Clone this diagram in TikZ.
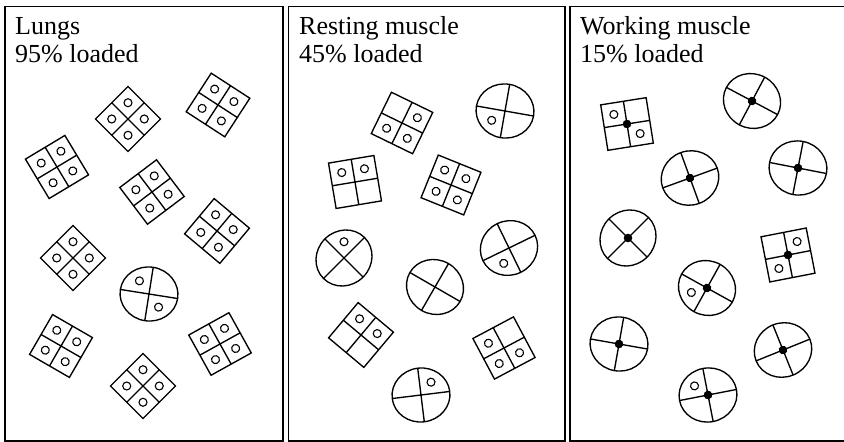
\documentclass[tikz,border=0pt]{standalone}
\usepackage{fontspec}
\setmainfont{Liberation Serif}

\tikzstyle{panel}=[draw, line width=1.3pt]
\tikzstyle{unit}=[line width=1.35pt]
\tikzstyle{otwo}=[draw, line width=1.1pt]
\tikzstyle{title}=[anchor=base west, inner sep=0pt, font=\fontsize{26}{28}\selectfont]

% one bound oxygen, placed in the cell (#1,#2) of a unit
\newcommand{\otwo}[2]{\draw[otwo] ({11.5*#1},{11.5*#2}) circle (4);}
% the iron in the middle
\newcommand{\fe}{\fill (0,0) circle (4.3);}
% square form: x, y, turn, what sits in it
\newcommand{\hbsquare}[4]{%
  \begin{scope}[shift={(#1,#2)}, rotate=#3, unit]
    \draw (-23,-23) rectangle (23,23) (-23,0) -- (23,0) (0,-23) -- (0,23);
    #4
  \end{scope}}
% round form
\newcommand{\hbdisc}[4]{%
  \begin{scope}[shift={(#1,#2)}, rotate=#3, unit]
    \draw (0,0) ellipse [x radius=29, y radius=27];
    \draw (-29,0) -- (29,0) (0,-27) -- (0,27);
    #4
  \end{scope}}

\begin{document}
\begin{tikzpicture}[x=1pt, y=1pt]
\clip (0,0) rectangle (844,442);
\draw[panel] (5,1) rectangle (283,435.5);
\draw[panel] (288.5,1) rectangle (565,435.5);
\draw[panel] (570,1) rectangle (850,435.5);
%
\node[title] (lungs) at (15,407) {Lungs};
\node[title] (lungsload) at (15,379) {95\% loaded};
\node[title] (rest) at (299,407) {Resting muscle};
\node[title] (restload) at (299,379) {45\% loaded};
\node[title] (work) at (580,407) {Working muscle};
\node[title] (workload) at (580,379) {15\% loaded};
%
% lungs
\hbsquare{128}{323}{45}{\otwo{1}{1}\otwo{-1}{1}\otwo{1}{-1}\otwo{-1}{-1}}
\hbsquare{218}{337}{57}{\otwo{1}{1}\otwo{-1}{1}\otwo{1}{-1}\otwo{-1}{-1}}
\hbsquare{57}{275}{31}{\otwo{1}{1}\otwo{-1}{1}\otwo{1}{-1}\otwo{-1}{-1}}
\hbsquare{152}{250}{37}{\otwo{1}{1}\otwo{-1}{1}\otwo{1}{-1}\otwo{-1}{-1}}
\hbsquare{217}{211}{50}{\otwo{1}{1}\otwo{-1}{1}\otwo{1}{-1}\otwo{-1}{-1}}
\hbsquare{73}{184}{45}{\otwo{1}{1}\otwo{-1}{1}\otwo{1}{-1}\otwo{-1}{-1}}
\hbdisc{149}{148}{-9}{\otwo{-1}{1}\otwo{1}{-1}}
\hbsquare{61}{96}{60}{\otwo{1}{1}\otwo{-1}{1}\otwo{1}{-1}\otwo{-1}{-1}}
\hbsquare{143}{56}{45}{\otwo{1}{1}\otwo{-1}{1}\otwo{1}{-1}\otwo{-1}{-1}}
\hbsquare{220}{98}{29}{\otwo{1}{1}\otwo{-1}{1}\otwo{1}{-1}\otwo{-1}{-1}}
%
% resting muscle
\hbsquare{402}{319}{-26}{\otwo{1}{1}\otwo{1}{-1}\otwo{-1}{-1}}
\hbdisc{505}{331}{-10}{\otwo{-1}{-1}}
\hbsquare{355}{260}{9.5}{\otwo{-1}{1}\otwo{1}{1}}
\hbsquare{451}{257}{-22}{\otwo{1}{1}\otwo{-1}{1}\otwo{1}{-1}\otwo{-1}{-1}}
\hbdisc{344}{184}{45}{\otwo{1}{1}}
\hbdisc{435}{155}{-30}{}
\hbdisc{509}{194}{26}{\otwo{-1}{-1}}
\hbsquare{361}{107}{-40}{\otwo{-1}{1}\otwo{1}{1}}
\hbsquare{504}{94}{28}{\otwo{-1}{1}\otwo{-1}{-1}\otwo{1}{-1}}
\hbdisc{421}{47}{7}{\otwo{1}{1}}
%
% working muscle
\hbsquare{627}{318}{9}{\fe\otwo{-1}{1}\otwo{1}{-1}}
\hbdisc{752}{341}{-28}{\fe}
\hbdisc{798}{274}{-11}{\fe}
\hbdisc{690}{264}{20}{\fe}
\hbdisc{628}{204}{45}{\fe}
\hbsquare{788}{187}{11}{\fe\otwo{1}{1}\otwo{-1}{-1}}
\hbdisc{707}{154}{-29}{\fe\otwo{-1}{-1}}
\hbdisc{619}{98}{-10}{\fe}
\hbdisc{783}{92}{22}{\fe}
\hbdisc{708}{47}{11}{\fe\otwo{-1}{1}}
\end{tikzpicture}
\end{document}
